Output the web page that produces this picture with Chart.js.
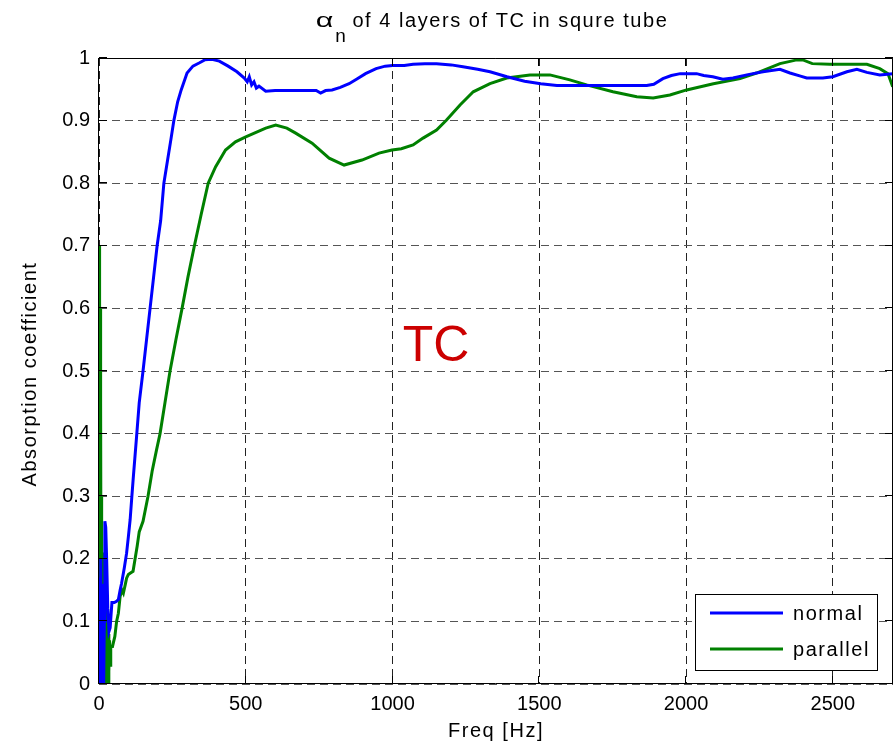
<!DOCTYPE html>
<html>
<head>
<meta charset="utf-8">
<script src="https://cdn.jsdelivr.net/npm/chart.js@4.4.1/dist/chart.umd.min.js"></script>
<style>
html, body { margin: 0; padding: 0; background: #fff; }
</style>
</head>
<body>
<canvas id="chart" width="894" height="747"></canvas>
<script>
const normalFreq = [0,2,4,6,8,10,12,14,16,18,20,23,26,30,34,38,44,52,60,66,72,77,86,94,100,106,112,117,122,128,137,150,162,174,186,198,210,221,233,245,255,268,280,300,320,341,360,385,410,440,470,495,505,512,520,528,536,545,568,600,650,700,740,755,772,794,822,852,880,908,944,975,1000,1040,1070,1110,1150,1200,1240,1290,1332,1390,1450,1505,1560,1650,1750,1866,1890,1921,1950,1980,2036,2060,2091,2125,2160,2207,2262,2320,2354,2390,2411,2466,2500,2548,2582,2616,2660,2704];
const normalAlpha = [0,0.17,0.03,0.2,0,0.12,0.02,0.16,0,0.1,0.26,0.25,0.2,0.12,0.084,0.09,0.13,0.13,0.132,0.135,0.15,0.161,0.185,0.209,0.235,0.262,0.3,0.331,0.36,0.395,0.449,0.5,0.55,0.6,0.65,0.7,0.74,0.8,0.835,0.87,0.9,0.93,0.949,0.976,0.987,0.992,0.997,0.998,0.995,0.987,0.978,0.968,0.962,0.970,0.957,0.962,0.952,0.955,0.947,0.948,0.948,0.948,0.948,0.944,0.948,0.949,0.953,0.959,0.967,0.975,0.983,0.987,0.988,0.988,0.990,0.991,0.991,0.989,0.986,0.982,0.978,0.970,0.963,0.959,0.956,0.956,0.956,0.956,0.958,0.967,0.972,0.975,0.975,0.972,0.970,0.966,0.968,0.973,0.978,0.982,0.976,0.971,0.968,0.968,0.970,0.978,0.982,0.977,0.973,0.975];

const parallelFreq = [0,1,2,3,4,5,6,7,8,9,10,11,12,13,14,15,16,17,18,19,20,21,22,23,24,25,26,27,28,29,30,31,33,34,36,38,40,46,54,60,66,72,78,83,90,94,100,106,116,123,130,137,150,167,181,196,208,225,242,262,283,303,325,348,372,397,431,465,500,568,602,640,670,726,784,835,896,954,998,1030,1070,1104,1150,1184,1230,1275,1332,1389,1468,1536,1604,1661,1751,1832,1888,1945,2002,2093,2184,2240,2320,2377,2398,2430,2490,2616,2660,2688,2704];
const parallelAlpha = [0,0.70,0.69,0.5,0.6,0.2,0.45,0.1,0.3,0.03,0.25,0,0.2,0.02,0.21,0,0.18,0.01,0.19,0,0.15,0.02,0.17,0,0.12,0.01,0.14,0,0.1,0.02,0.12,0,0.08,0.02,0.07,0.03,0.06,0.06,0.076,0.1,0.113,0.14,0.15,0.145,0.16,0.169,0.175,0.177,0.18,0.2,0.22,0.243,0.26,0.3,0.34,0.374,0.4,0.45,0.5,0.55,0.6,0.65,0.7,0.75,0.8,0.826,0.853,0.866,0.874,0.888,0.893,0.888,0.880,0.864,0.840,0.829,0.837,0.848,0.853,0.855,0.861,0.872,0.885,0.901,0.925,0.946,0.959,0.968,0.973,0.973,0.965,0.957,0.946,0.938,0.936,0.941,0.949,0.959,0.967,0.976,0.991,0.997,0.997,0.991,0.990,0.990,0.983,0.975,0.954];

const seriesNames = ["normal", "parallel"];
const seriesColors = ["#0000ff", "#008000"];

const xTicks = [0, 500, 1000, 1500, 2000, 2500];
const yTicks = [0, 0.1, 0.2, 0.3, 0.4, 0.5, 0.6, 0.7, 0.8, 0.9, 1];

const titleSymbol = "α";
const titleSub = "n";
const titleRest = "of 4 layers of TC in squre tube";
const xLabel = "Freq [Hz]";
const yLabel = "Absorption coefficient";
const noteText = "TC";
const noteAt = [1035, 0.516];

const FONT = "'Liberation Sans', Arial, sans-serif";
const SPACING = "1.55px";

function toPoints(xs, ys) {
    return xs.map((x, i) => ({ x: x, y: ys[i] }));
}

const matlabLook = {
    id: "matlabLook",
    afterDraw(chart) {
        const ctx = chart.ctx;
        const a = chart.chartArea;
        const sx = chart.scales.x;
        const sy = chart.scales.y;

        ctx.save();

        // axes box
        ctx.strokeStyle = "#000";
        ctx.lineWidth = 1;
        ctx.beginPath();
        ctx.moveTo(a.left - 0.5, a.top + 0.5);
        ctx.lineTo(a.right - 0.5, a.top + 0.5);
        ctx.lineTo(a.right - 0.5, a.bottom - 0.5);
        ctx.lineTo(a.left - 0.5, a.bottom - 0.5);
        ctx.closePath();
        ctx.stroke();

        // inward tick marks on all four sides
        const tl = 8;
        ctx.beginPath();
        xTicks.forEach(v => {
            const px = Math.round(sx.getPixelForValue(v)) - 0.5;
            ctx.moveTo(px, a.bottom);
            ctx.lineTo(px, a.bottom - tl);
            ctx.moveTo(px, a.top);
            ctx.lineTo(px, a.top + tl);
        });
        yTicks.forEach(v => {
            const py = Math.round(sy.getPixelForValue(v)) - 0.5;
            ctx.moveTo(a.left, py);
            ctx.lineTo(a.left + tl, py);
            ctx.moveTo(a.right, py);
            ctx.lineTo(a.right - tl, py);
        });
        ctx.stroke();

        ctx.fillStyle = "#000";
        ctx.letterSpacing = SPACING;

        // title with subscript; the alpha is widened like the Symbol font one
        ctx.textBaseline = "alphabetic";
        ctx.textAlign = "left";
        const alphaStretch = 1.45;
        ctx.letterSpacing = "0px";
        ctx.font = "21px " + FONT;
        const wA = ctx.measureText(titleSymbol).width * alphaStretch;
        ctx.letterSpacing = SPACING;
        ctx.font = "19px " + FONT;
        const wN = ctx.measureText(titleSub).width;
        ctx.font = "20px " + FONT;
        const wR = ctx.measureText(titleRest).width;
        const gap = 5;
        let tx = 491 - (wA + wN + gap + wR) / 2;
        ctx.save();
        ctx.letterSpacing = "0px";
        ctx.font = "21px " + FONT;
        ctx.translate(tx, 27);
        ctx.scale(alphaStretch, 1);
        ctx.fillText(titleSymbol, 0, 0);
        ctx.restore();
        tx += wA + 2;
        ctx.font = "19px " + FONT;
        ctx.fillText(titleSub, tx, 42);
        tx += wN + gap;
        ctx.font = "20px " + FONT;
        ctx.fillText(titleRest, tx, 27);

        // axis labels
        ctx.textAlign = "center";
        ctx.fillText(xLabel, (a.left + a.right) / 2, 737);
        ctx.save();
        ctx.translate(36, (a.top + a.bottom) / 2 + 3);
        ctx.rotate(-Math.PI / 2);
        ctx.fillText(yLabel, 0, 0);
        ctx.restore();

        // text annotation
        ctx.letterSpacing = "0px";
        ctx.textAlign = "left";
        ctx.fillStyle = "#cc0000";
        ctx.font = "50px " + FONT;
        ctx.fillText(noteText, sx.getPixelForValue(noteAt[0]), sy.getPixelForValue(noteAt[1]));

        // legend box, bottom right inside the axes
        const bw = 182, bh = 76;
        const bx = a.right - 16 - bw;
        const by = a.bottom - 14 - bh;
        ctx.fillStyle = "#fff";
        ctx.fillRect(bx, by, bw, bh);
        ctx.strokeStyle = "#000";
        ctx.lineWidth = 1;
        ctx.strokeRect(bx + 0.5, by + 0.5, bw, bh);
        ctx.font = "20px " + FONT;
        ctx.letterSpacing = SPACING;
        ctx.textBaseline = "middle";
        chart.data.datasets.forEach((ds, i) => {
            const ly = by + 19 + i * 36;
            ctx.strokeStyle = ds.borderColor;
            ctx.lineWidth = 3;
            ctx.beginPath();
            ctx.moveTo(bx + 15, ly);
            ctx.lineTo(bx + 88, ly);
            ctx.stroke();
            ctx.fillStyle = "#000";
            ctx.fillText(ds.label, bx + 98, ly + 1);
        });

        ctx.restore();
    }
};

new Chart(document.getElementById("chart"), {
    type: "line",
    data: {
        datasets: [
            {
                label: seriesNames[0],
                data: toPoints(normalFreq, normalAlpha),
                borderColor: seriesColors[0],
                borderWidth: 3,
                pointRadius: 0,
                tension: 0,
                fill: false
            },
            {
                label: seriesNames[1],
                data: toPoints(parallelFreq, parallelAlpha),
                borderColor: seriesColors[1],
                borderWidth: 3,
                pointRadius: 0,
                tension: 0,
                fill: false
            }
        ]
    },
    options: {
        responsive: false,
        animation: false,
        layout: { padding: { top: 58, right: 1, left: 0, bottom: 0 } },
        plugins: {
            legend: { display: false },
            title: { display: false },
            tooltip: { enabled: false }
        },
        scales: {
            x: {
                type: "linear",
                min: 0,
                max: 2705,
                afterFit: s => { s.height = 63; },
                afterBuildTicks: s => { s.ticks = xTicks.map(v => ({ value: v })); },
                grid: { color: "#222", drawTicks: false, lineWidth: 1 },
                border: { display: false, dash: [8, 5] },
                ticks: {
                    padding: 8,
                    color: "#000",
                    maxRotation: 0,
                    autoSkip: false,
                    font: { family: FONT, size: 20 },
                    callback: v => String(v)
                }
            },
            y: {
                type: "linear",
                min: 0,
                max: 1,
                afterFit: s => { s.width = 99; },
                afterBuildTicks: s => { s.ticks = yTicks.map(v => ({ value: v })); },
                grid: { color: "#555", drawTicks: false, lineWidth: 1 },
                border: { display: false, dash: [8, 5] },
                ticks: {
                    padding: 9,
                    color: "#000",
                    autoSkip: false,
                    font: { family: FONT, size: 20 },
                    callback: v => String(Math.round(v * 10) / 10)
                }
            }
        }
    },
    plugins: [matlabLook]
});
</script>
</body>
</html>
